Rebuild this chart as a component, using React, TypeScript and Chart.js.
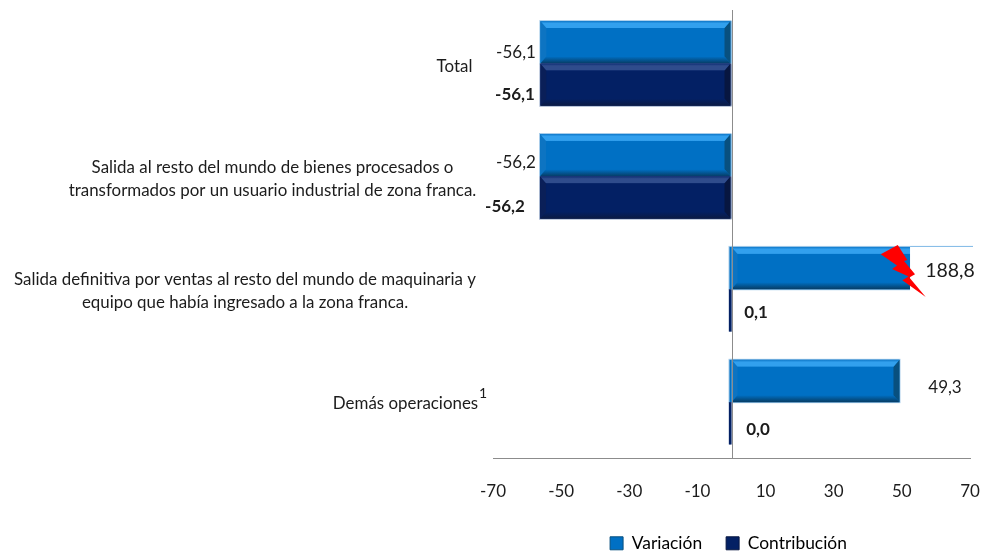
import React, { useEffect, useRef } from "react";
import { Chart, registerables } from "chart.js";

Chart.register(...registerables);

const categories = [
  "Total",
  ["Salida al resto del mundo de bienes procesados o", "transformados por un usuario industrial de zona franca."],
  ["Salida definitiva por ventas al resto del mundo de maquinaria y", "equipo que había ingresado a la zona franca."],
  "Demás operaciones",
];
const variacion = [-56.1, -56.2, 188.8, 49.3];
const contribucion = [-56.1, -56.2, 0.1, 0.0];
const xTicks = [-70, -50, -30, -10, 10, 30, 50, 70];
const seriesNames = ["Variación", "Contribución"];
const axisBreakValue = 52.4;

const FONT = "Lato, Carlito, sans-serif";
const INK = "#1c1c1c";

const palettes = [
  { base: "#0070c4", top: "#32a0ee", topEdge: "#0f78c9", bottom: "#063c64", side: "#0d74c2", right: "#08507f", halo: "#a9cdea" },
  { base: "#032064", top: "#2f4c8c", topEdge: "#0c2c72", bottom: "#0b1a42", side: "#0a1f58", right: "#071640", halo: "#a7b6d0" },
];

// label placement: centre x of the text, y offset from the bar centre, font size
const valueLabelPlacement = [
  [
    { dx: 516, dy: 10, size: 17 },
    { dx: 515, dy: 10, size: 17 },
  ],
  [
    { dx: 516, dy: 7, size: 17 },
    { dx: 505, dy: 9, size: 17 },
  ],
  [
    { dx: 950, dy: 3, size: 19.5 },
    { dx: 756, dy: 2, size: 17 },
  ],
  [
    { dx: 945, dy: 7, size: 17 },
    { dx: 758, dy: 6, size: 17 },
  ],
];
const catLabelCentres = [454.5, 272.5, 245, 405.5];
const catLabelShift = [3, 3, 2, 1];

function bevelBar(ctx: any, x0: number, x1: number, y0: number, y1: number, p: any, b: number) {
  const poly = (pts: number[][], fill: any) => {
    ctx.beginPath();
    pts.forEach((q, i) => (i ? ctx.lineTo(q[0], q[1]) : ctx.moveTo(q[0], q[1])));
    ctx.closePath();
    ctx.fillStyle = fill;
    ctx.fill();
  };
  const t = ctx.createLinearGradient(0, y0, 0, y0 + b + 2);
  t.addColorStop(0, p.topEdge);
  t.addColorStop(0.3, p.top);
  t.addColorStop(0.8, p.top);
  t.addColorStop(1, p.base);
  const g = ctx.createLinearGradient(0, y1 - b - 1, 0, y1);
  g.addColorStop(0, p.base);
  g.addColorStop(1, p.bottom);
  poly([[x0, y0], [x0 + b, y0 + b + 1], [x0 + b, y1 - b - 1], [x0, y1]], p.side);
  poly([[x1, y0], [x1 - b, y0 + b + 1], [x1 - b, y1 - b - 1], [x1, y1]], p.right);
  poly([[x0, y0], [x1, y0], [x1 - b, y0 + b + 1], [x0 + b, y0 + b + 1]], t);
  poly([[x0, y1], [x1, y1], [x1 - b, y1 - b - 1], [x0 + b, y1 - b - 1]], g);
}

const decorPlugin = {
  id: "decor",
  afterLayout(chart: any) {
    chart.legend.top += 9;
    chart.legend.bottom += 9;
    chart.legend.left -= 3;
    chart.legend.right -= 3;
  },
  afterDatasetsDraw(chart: any) {
    const { ctx, chartArea, scales } = chart;
    const zero = scales.x.getPixelForValue(0);
    ctx.save();
    chart.data.datasets.forEach((ds: any, di: number) => {
      const p = palettes[di];
      chart.getDatasetMeta(di).data.forEach((el: any, i: number) => {
        const { x, y, height } = el.getProps(["x", "y", "height"], true);
        const y0 = y - height / 2;
        const y1 = y + height / 2;
        const xr = Math.min(x, chartArea.right + 3);
        const lo = Math.min(zero, xr);
        const hi = Math.max(zero, xr);
        if (hi - lo < 4) {
          ctx.fillStyle = p.halo;
          ctx.fillRect(zero - 3, y0, 3, y1 - y0);
          ctx.fillStyle = p.base;
          ctx.fillRect(zero - 2.5, y0, 2.5, y1 - y0);
          return;
        }
        const xb = ds.data[i] < 0 ? hi - 1 : hi;
        const haloTop = di === 0 ? y0 - 1 : y0;
        ctx.fillStyle = p.halo;
        ctx.fillRect(lo - 1, haloTop, xb - lo + 2, y1 + 1 - haloTop);
        ctx.fillStyle = p.base;
        ctx.fillRect(lo, y0, xb - lo, y1 - y0);
        bevelBar(ctx, lo, xb, y0, y1, p, 6);
        if (ds.data[i] > 0) {
          ctx.fillStyle = p.halo;
          ctx.fillRect(zero - 3, y0 - 1, 3, y1 - y0 + 2);
          ctx.fillStyle = p.base;
          ctx.fillRect(zero - 2, y0, 2, y1 - y0);
        }
      });
    });

    // axis break on the bar that runs off the scale
    const metaV = chart.getDatasetMeta(0).data;
    variacion.forEach((v, i) => {
      if (v > scales.x.max) {
        const { y, height } = metaV[i].getProps(["y", "height"], true);
        const top = y - height / 2;
        const bx = scales.x.getPixelForValue(axisBreakValue);
        ctx.fillStyle = "#ffffff";
        ctx.fillRect(bx, top - 2, chartArea.right + 6 - bx, height + 4);
        ctx.fillStyle = "#7fb9e6";
        ctx.fillRect(bx, top - 1, chartArea.right + 3 - bx, 1);
        const bolt = [
          [-29.3, 7.3], [-12.3, -2], [-2.7, 13], [-6, 14], [5, 27.3], [-0.7, 30.7], [15.7, 50],
          [-7.7, 33.3], [-1.5, 29.5], [-18, 22], [-13, 18.5],
        ];
        ctx.beginPath();
        bolt.forEach((q, k) => {
          const px = bx + q[0];
          const py = top + q[1];
          if (k) ctx.lineTo(px, py);
          else ctx.moveTo(px, py);
        });
        ctx.closePath();
        ctx.fillStyle = "#ff0000";
        ctx.fill();
      }
    });

    // zero line
    ctx.strokeStyle = "#8c8c8c";
    ctx.lineWidth = 1;
    ctx.beginPath();
    ctx.moveTo(Math.round(zero) + 0.5, 10);
    ctx.lineTo(Math.round(zero) + 0.5, chartArea.bottom);
    ctx.stroke();

    // value labels
    ctx.textAlign = "center";
    ctx.textBaseline = "middle";
    ctx.fillStyle = INK;
    chart.data.datasets.forEach((ds: any, di: number) => {
      chart.getDatasetMeta(di).data.forEach((el: any, i: number) => {
        const { y } = el.getProps(["y"], true);
        const pl = valueLabelPlacement[i][di];
        ctx.font = `${di ? "bold " : ""}${pl.size}px ${FONT}`;
        ctx.fillText(ds.data[i].toFixed(1).replace(".", ","), pl.dx, y + pl.dy);
      });
    });

    // category labels
    ctx.font = `16.9px ${FONT}`;
    scales.y.ticks.forEach((_: any, i: number) => {
      const label = categories[i];
      const lines = Array.isArray(label) ? label : [label];
      const mid = scales.y.getPixelForTick(i) + catLabelShift[i];
      lines.forEach((line, k) => {
        ctx.fillText(line, catLabelCentres[i], mid + (k - (lines.length - 1) / 2) * 23);
      });
    });
    ctx.font = `14px ${FONT}`;
    ctx.fillText("1", 483, scales.y.getPixelForTick(3) - 9);
    ctx.restore();
  },
};

export default function App() {
  const ref = useRef<HTMLCanvasElement>(null);
  useEffect(() => {
    const chart = new Chart(ref.current as HTMLCanvasElement, {
      type: "bar",
      data: {
        labels: categories as any,
        datasets: [
          { label: seriesNames[0], data: variacion, backgroundColor: palettes[0].base, borderWidth: 0, categoryPercentage: 0.75, barPercentage: 1 },
          { label: seriesNames[1], data: contribucion, backgroundColor: palettes[1].base, borderWidth: 0, categoryPercentage: 0.75, barPercentage: 1 },
        ],
      },
      options: {
        indexAxis: "y",
        animation: false,
        responsive: false,
        layout: { padding: { top: 7, right: 11, bottom: 0, left: 0 } },
        scales: {
          x: {
            min: -70,
            max: 70,
            afterBuildTicks: (s: any) => {
              s.ticks = xTicks.map((value) => ({ value }));
            },
            grid: { display: false },
            border: { color: "#8c8c8c" },
            ticks: { font: { family: FONT, size: 17 }, color: INK, padding: 15, maxRotation: 0, autoSkip: true },
            afterFit: (s: any) => {
              s.height = 43;
              s.paddingLeft = 0;
              s.paddingRight = 0;
            },
          },
          y: {
            grid: { display: false },
            border: { display: false },
            ticks: { display: false },
            afterFit: (s: any) => {
              s.width = 493;
            },
          },
        },
        plugins: {
          tooltip: { enabled: false },
          legend: {
            position: "bottom",
            fullSize: false,
            labels: {
              font: { family: FONT, size: 17.4 },
              color: INK,
              boxWidth: 13,
              boxHeight: 13,
              padding: 24,
              generateLabels: (c: any) =>
                c.data.datasets.map((d: any, i: number) => ({
                  text: d.label,
                  fillStyle: palettes[i].base,
                  strokeStyle: palettes[i].right,
                  lineWidth: 1,
                  datasetIndex: i,
                })),
            },
          },
        },
      },
      plugins: [decorPlugin],
    } as any);
    return () => chart.destroy();
  }, []);
  return (
    <div style={{ position: "absolute", left: 0, top: 0, width: 981, height: 553, background: "#fff" }}>
      <canvas ref={ref} width={981} height={553} style={{ display: "block" }} />
    </div>
  );
}
